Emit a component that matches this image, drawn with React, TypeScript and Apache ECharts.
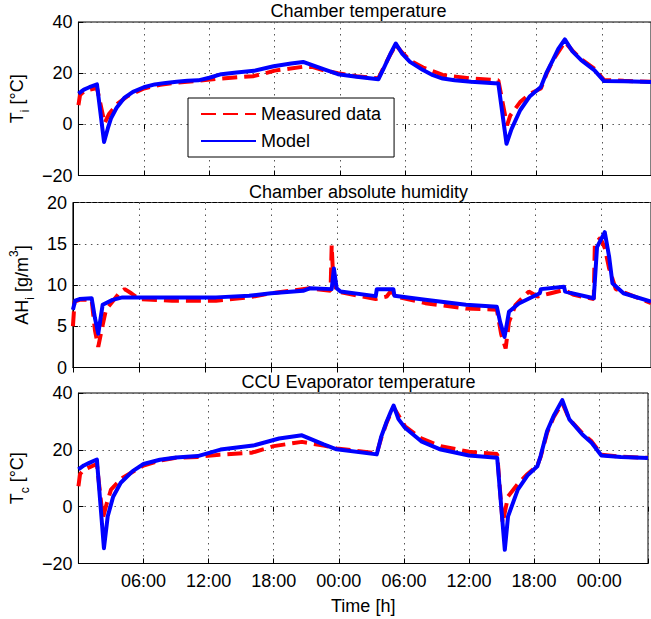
import React, { useEffect, useRef } from 'react';
import * as echarts from 'echarts';

const FONT = '"Liberation Sans", Arial, Helvetica, sans-serif';

// ---------- Panel 1: chamber temperature T_i [°C] ----------
const tiMeasuredTime = [0, 0.15, 0.5, 1.0, 1.7, 2.4, 2.8, 3.6, 4.5, 6.0, 7.5, 9.0, 11.0, 13.0, 16.0, 17.0, 18.0, 20.6, 21.5, 22.6, 23.8, 25.5, 27.5, 28.0, 28.6, 29.1, 29.7, 30.4, 31.6, 33.4, 36.0, 38.5, 39.3, 39.6, 40.5, 41.4, 42.4, 42.9, 43.5, 44.6, 45.3, 46.1, 47.3, 48.2, 50.0, 52.5];
const tiMeasured = [7.5, 11.5, 12.8, 13.5, 14.2, 0.5, 4.0, 8.1, 11.0, 14.0, 15.5, 16.3, 17.0, 17.9, 18.8, 19.8, 21.0, 22.5, 22.4, 21.0, 20.0, 18.8, 18.0, 22.3, 27.3, 31.0, 28.0, 25.0, 22.2, 19.3, 17.9, 17.2, -0.4, 3.5, 8.7, 12.0, 14.0, 19.5, 25.0, 32.2, 28.8, 25.5, 21.8, 17.3, 17.0, 16.6];
const tiModelTime = [0, 0.5, 1.0, 1.7, 2.35, 2.7, 3.0, 3.5, 4.2, 5.0, 6.0, 7.0, 8.0, 9.0, 10.0, 11.0, 12.0, 13.1, 14.5, 16.1, 17.9, 19.5, 20.6, 21.5, 22.6, 23.8, 25.5, 27.5, 28.0, 28.6, 29.1, 29.7, 30.4, 31.6, 32.5, 33.4, 34.5, 36.0, 38.5, 39.25, 39.7, 40.5, 41.4, 42.4, 42.9, 43.5, 44.0, 44.6, 45.3, 46.1, 47.3, 48.2, 50.0, 52.5];
const tiModel = [12.0, 13.6, 14.5, 15.6, -6.9, -1.5, 2.5, 6.5, 10.3, 12.7, 14.5, 15.6, 16.2, 16.6, 17.0, 17.2, 18.2, 19.6, 20.3, 20.9, 22.7, 23.8, 24.4, 23.0, 21.4, 19.6, 18.6, 17.6, 22.0, 27.5, 31.6, 27.5, 24.4, 21.2, 19.2, 17.9, 17.2, 16.6, 16.0, -7.6, -2.0, 5.5, 11.0, 14.6, 20.0, 25.1, 29.5, 33.2, 28.5, 25.1, 21.2, 16.9, 16.8, 16.5];

// ---------- Panel 2: chamber absolute humidity AH_i [g/m^3] ----------
const ahMeasuredTime = [0, 0.15, 0.6, 1.7, 2.0, 2.3, 2.6, 3.0, 3.6, 4.2, 4.7, 5.3, 6.0, 9.0, 13.0, 16.0, 18.0, 21.5, 23.4, 23.5, 23.65, 24.0, 27.5, 28.5, 28.9, 29.3, 32.0, 35.7, 38.5, 38.9, 39.3, 39.6, 40.2, 41.4, 42.2, 43.4, 44.6, 45.5, 47.3, 47.4, 47.9, 48.3, 48.7, 49.3, 52.5];
const ahMeasured = [5.0, 8.0, 8.2, 8.2, 4.5, 2.5, 4.5, 7.0, 8.0, 9.0, 9.5, 9.0, 8.3, 8.1, 8.1, 8.5, 9.0, 9.6, 9.3, 14.8, 10.5, 9.2, 8.3, 8.6, 9.3, 8.6, 7.8, 7.15, 7.0, 4.0, 2.3, 5.5, 7.6, 9.2, 8.6, 9.0, 9.4, 8.8, 8.3, 15.0, 15.7, 14.5, 12.0, 9.5, 7.8];
const ahModelTime = [0, 0.2, 0.6, 1.7, 2.0, 2.3, 2.7, 3.6, 4.5, 8.0, 13.0, 16.0, 18.0, 20.9, 21.5, 23.5, 23.7, 23.95, 24.3, 27.5, 27.6, 29.1, 29.2, 32.0, 35.7, 38.5, 38.8, 39.2, 39.6, 40.5, 42.4, 42.5, 44.6, 44.7, 47.3, 47.6, 48.3, 48.7, 49.0, 50.0, 52.5];
const ahModel = [7.0, 8.1, 8.3, 8.4, 6.0, 4.1, 7.6, 8.2, 8.5, 8.5, 8.5, 8.7, 9.0, 9.3, 9.6, 9.5, 12.0, 9.6, 9.2, 8.65, 9.5, 9.5, 8.7, 8.2, 7.6, 7.35, 5.5, 3.7, 6.75, 7.75, 9.0, 9.5, 9.8, 9.2, 8.4, 14.6, 16.4, 13.4, 10.2, 9.0, 8.0];

// ---------- Panel 3: CCU evaporator temperature T_c [°C] ----------
const tcMeasuredTime = [0, 0.15, 0.5, 1.7, 2.25, 2.6, 3.0, 4.0, 6.0, 7.5, 9.0, 11.0, 13.0, 16.0, 18.0, 20.6, 22.6, 23.8, 27.5, 27.9, 28.4, 28.8, 29.05, 30.1, 31.6, 33.4, 36.0, 38.6, 39.1, 39.6, 40.5, 41.4, 42.3, 42.6, 43.2, 43.8, 44.6, 45.25, 46.45, 47.3, 48.2, 50.0, 52.5];
const tcMeasured = [7.2, 11.5, 13.0, 15.0, -4.0, 1.0, 6.0, 10.0, 14.5, 16.2, 17.2, 17.5, 18.3, 19.0, 21.3, 22.8, 21.5, 20.5, 18.8, 24.0, 29.5, 33.0, 35.0, 28.3, 24.0, 21.3, 19.3, 18.5, -5.8, 3.6, 8.0, 11.5, 14.5, 17.5, 26.0, 31.5, 36.5, 30.8, 25.8, 23.0, 18.3, 17.6, 17.2];
const tcModelTime = [0, 0.5, 1.0, 1.7, 2.35, 2.7, 3.2, 3.9, 5.0, 6.0, 7.5, 9.0, 11.0, 13.1, 16.1, 18.5, 20.6, 22.6, 23.8, 27.5, 27.9, 28.4, 28.8, 29.05, 29.5, 30.1, 31.6, 33.4, 36.0, 38.6, 39.3, 39.6, 40.5, 41.4, 42.3, 42.6, 43.2, 43.8, 44.6, 45.25, 46.45, 47.3, 48.2, 50.0, 52.5];
const tcModel = [13.1, 14.5, 15.4, 16.6, -14.6, -3.4, 3.5, 8.4, 12.5, 15.0, 16.5, 17.3, 17.8, 20.1, 21.5, 24.0, 25.1, 21.9, 20.2, 18.4, 24.5, 29.8, 33.5, 35.6, 30.8, 27.8, 23.0, 20.1, 18.0, 17.2, -15.2, -3.4, 6.0, 11.0, 14.2, 17.8, 26.6, 31.9, 37.5, 30.7, 25.4, 22.5, 18.0, 17.5, 17.1];

// ---------- Labels ----------
const clockLabels = ['00:00', '06:00', '12:00', '18:00'];
const panelTitles = ['Chamber temperature', 'Chamber absolute humidity', 'CCU Evaporator temperature'];
const seriesNames = ['Measured data', 'Model'];
const yNames = ['{m|T}{s|i}{m| [°C]}', '{m|AH}{s|i}{m| [g/m}{p|3}{m|]}', '{m|T}{s|c}{m| [°C]}'];
const yRanges = [
  { min: -20, max: 40, interval: 20 },
  { min: 0, max: 20, interval: 5 },
  { min: -20, max: 40, interval: 20 },
];
const xName = 'Time [h]';

const zip = (t: number[], v: number[]) => t.map((x, i) => [x, v[i]]);

const panelData = [
  [zip(tiMeasuredTime, tiMeasured), zip(tiModelTime, tiModel)],
  [zip(ahMeasuredTime, ahMeasured), zip(ahModelTime, ahModel)],
  [zip(tcMeasuredTime, tcMeasured), zip(tcModelTime, tcModel)],
];

const X_MAX = 52.5;
const grids = [
  { left: 66, top: 22, width: 588.5, height: 153.5 },
  { left: 66, top: 202.5, width: 588.5, height: 165 },
  { left: 66, top: 393, width: 588.5, height: 170.5 },
];
const titleY = [11, 192, 382];

export default function App() {
  const ref = useRef<HTMLDivElement>(null);
  useEffect(() => {
    if (!ref.current) return;
    const chart = echarts.init(ref.current, null, { renderer: 'svg' });
    const xFormatter = (v: number) => {
      if (v <= 0 || v > 48 || v % 6 !== 0) return '';
      return clockLabels[(v % 24) / 6];
    };
    const yFormatter = (v: number) => (v < 0 ? '\u2212' + Math.abs(v) : String(v));
    const gridLine = { show: true, lineStyle: { color: '#555', type: [1.5, 4.5] as any, width: 1 } };
    const rich = {
      m: { fontSize: 18, fontFamily: FONT, color: '#000', padding: [5, 0, 5, 0], verticalAlign: 'middle' },
      s: { fontSize: 12, fontFamily: FONT, color: '#000', verticalAlign: 'bottom' },
      p: { fontSize: 12, fontFamily: FONT, color: '#000', verticalAlign: 'top' },
    };

    const xAxes: any[] = [];
    grids.forEach((_, i) => {
      xAxes.push({
        type: 'value', gridIndex: i, min: 0, max: X_MAX, interval: 6, position: 'bottom',
        axisLine: { show: true, onZero: false, lineStyle: { color: '#000', width: 1 } },
        axisTick: { show: true, inside: true, length: 5, lineStyle: { color: '#000' } },
        axisLabel: { show: i === 2, formatter: xFormatter, fontSize: 18, fontFamily: FONT, color: '#000', margin: 8 },
        splitLine: gridLine,
        name: i === 2 ? xName : '', nameLocation: 'middle', nameGap: 33,
        nameTextStyle: { fontSize: 18, fontFamily: FONT, color: '#000' },
      });
    });
    grids.forEach((_, i) => {
      xAxes.push({
        type: 'value', gridIndex: i, min: 0, max: X_MAX, interval: 6, position: 'top',
        axisLine: { show: false },
        axisTick: { show: true, inside: true, length: 5, lineStyle: { color: '#000' } },
        axisLabel: { show: false },
        splitLine: { show: false },
      });
    });

    const yAxes = grids.map((_, i) => ({
      type: 'value', gridIndex: i, ...yRanges[i],
      axisLine: { show: true, onZero: false, lineStyle: { color: '#000', width: 1 } },
      axisTick: { show: true, inside: true, length: 5, lineStyle: { color: '#000' } },
      axisLabel: { formatter: yFormatter, fontSize: 18, fontFamily: FONT, color: '#000', margin: 6 },
      splitLine: gridLine,
      name: yNames[i], nameLocation: 'middle', nameRotate: 90, nameGap: 34,
      nameTextStyle: { fontSize: 18, fontFamily: FONT, color: '#000', rich },
    }));

    const series: any[] = [];
    panelData.forEach((pair, i) => {
      series.push({
        name: seriesNames[0], type: 'line', xAxisIndex: i, yAxisIndex: i, data: pair[0],
        symbol: 'none', showSymbol: false,
        lineStyle: { color: '#ff0000', width: 4, type: [15, 7] },
        itemStyle: { color: '#ff0000' },
      });
    });
    panelData.forEach((pair, i) => {
      series.push({
        name: seriesNames[1], type: 'line', xAxisIndex: i, yAxisIndex: i, data: pair[1],
        symbol: 'none', showSymbol: false,
        lineStyle: { color: '#0000ff', width: 4, join: 'round' },
        itemStyle: { color: '#0000ff' },
      });
    });

    chart.setOption({
      animation: false,
      backgroundColor: '#fff',
      grid: grids.map((g) => ({ ...g, show: true, borderColor: '#000', borderWidth: 1, backgroundColor: 'transparent' })),
      xAxis: xAxes,
      yAxis: yAxes,
      series,
      legend: {
        data: seriesNames, orient: 'vertical', left: 188, top: 98,
        padding: [7, 13, 7, 12], itemWidth: 55, itemHeight: 18, itemGap: 9,
        borderColor: '#000', borderWidth: 1, backgroundColor: '#fff',
        selectedMode: false,
        itemStyle: { color: 'transparent', borderWidth: 0, opacity: 0 },
        textStyle: { fontSize: 18, fontFamily: FONT, color: '#000' },
      },
      graphic: panelTitles.map((t, i) => ({
        type: 'text', x: 358.5, y: titleY[i],
        style: { text: t, fontSize: 18, fontFamily: FONT, fill: '#000', align: 'center', verticalAlign: 'middle' },
      })),
    });
    return () => chart.dispose();
  }, []);
  return <div ref={ref} style={{ position: 'fixed', left: 0, top: 0, width: 651, height: 619, background: '#fff' }} />;
}
